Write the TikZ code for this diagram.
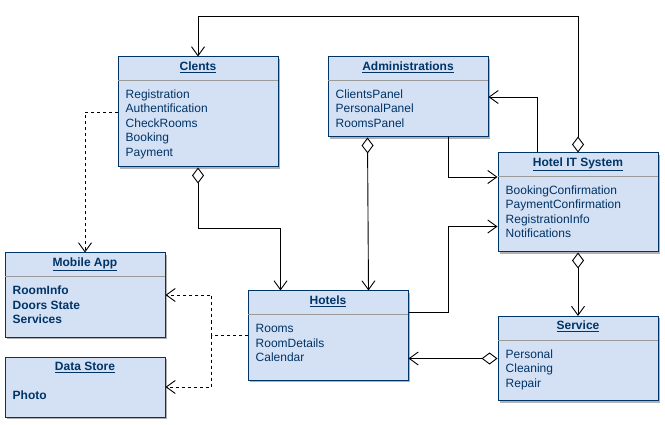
\documentclass[tikz,border=0pt]{standalone}
\usepackage{fontspec}
\setmainfont{Liberation Sans}
\usetikzlibrary{arrows.meta,calc,shadows}
\definecolor{boxfill}{HTML}{D4E1F5}
\definecolor{navy}{HTML}{003366}
\definecolor{sepgray}{HTML}{9A9A9A}
\begin{document}
\begin{tikzpicture}[x=1pt,y=-1pt,
  umlbox/.style={draw=navy, line width=1pt, fill=boxfill, rectangle, anchor=north west,
    minimum width=160pt, inner sep=0pt,
    drop shadow={shadow xshift=2pt,shadow yshift=-2pt,opacity=0.3,fill=black}},
  titletext/.style={anchor=base, font=\fontsize{12}{14.5}\selectfont\bfseries, text=navy, inner sep=0pt},
  itemtext/.style={anchor=base west, font=\fontsize{12}{14.5}\selectfont, text=navy, inner sep=0pt},
  bolditem/.style={itemtext, font=\fontsize{12}{14.5}\selectfont\bfseries},
  sepline/.style={draw=sepgray, line width=1pt},
  assoc/.style={draw=black, line width=0.9pt, -{Straight Barb[length=9pt,width=13pt]}},
  agg/.style={draw=black, line width=0.9pt, {Diamond[length=16pt,width=12pt,fill=white]}-{Straight Barb[length=9pt,width=13pt]}},
  dep/.style={draw=black, line width=0.9pt, dash pattern=on 3pt off 3pt, -{Straight Barb[length=9pt,width=13pt]}}
]
\fill[white] (0,0) rectangle (665,425);
\useasboundingbox (0,0) rectangle (665,425);

% boxes
\node[umlbox, minimum height=110pt] (clents) at (117.5,56.5) {};
\node[umlbox, minimum height=80pt] (admin) at (327.5,56.5) {};
\node[umlbox, minimum height=99pt] (hit) at (497.5,152.5) {};
\node[umlbox, minimum height=84pt] (mobile) at (4.5,252.5) {};
\node[umlbox, minimum height=60pt] (store) at (4.5,356.5) {};
\node[umlbox, minimum height=89pt] (hotels) at (247.5,290.5) {};
\node[umlbox, minimum height=84pt] (service) at (497.5,316) {};

% separators
\foreach \b in {clents,admin,hit,mobile,hotels,service}
  \draw[sepline] ($(\b.north west)+(0.5,24)$) -- ($(\b.north east)+(-0.5,24)$);

% titles
\node[titletext] (clents-t) at ($(clents.north)+(0,14)$) {\underline{Clents}};
\node[titletext] (admin-t) at ($(admin.north)+(0,14)$) {\underline{Administrations}};
\node[titletext] (hit-t) at ($(hit.north)+(0,14)$) {\underline{Hotel IT System}};
\node[titletext] (mobile-t) at ($(mobile.north)+(0,14)$) {\underline{Mobile App}};
\node[titletext] (store-t) at ($(store.north)+(0,14)$) {\underline{Data Store}};
\node[titletext] (hotels-t) at ($(hotels.north)+(0,14)$) {\underline{Hotels}};
\node[titletext] (service-t) at ($(service.north)+(0,14)$) {\underline{Service}};

% items
\foreach \t [count=\i] in {Registration,Authentification,CheckRooms,Booking,Payment}
  \node[itemtext] (clents-\i) at ($(clents.north west)+(8,{42+14.5*(\i-1)})$) {\t};
\foreach \t [count=\i] in {ClientsPanel,PersonalPanel,RoomsPanel}
  \node[itemtext] (admin-\i) at ($(admin.north west)+(8,{42+14.5*(\i-1)})$) {\t};
\foreach \t [count=\i] in {BookingConfirmation,PaymentConfirmation,RegistrationInfo,Notifications}
  \node[itemtext] (hit-\i) at ($(hit.north west)+(8,{42+14.5*(\i-1)})$) {\t};
\foreach \t [count=\i] in {RoomInfo,Doors State,Services}
  \node[bolditem] (mobile-\i) at ($(mobile.north west)+(8,{42+14.5*(\i-1)})$) {\t};
\node[bolditem] (store-1) at ($(store.north west)+(8,43)$) {Photo};
\foreach \t [count=\i] in {Rooms,RoomDetails,Calendar}
  \node[itemtext] (hotels-\i) at ($(hotels.north west)+(8,{42+14.5*(\i-1)})$) {\t};
\foreach \t [count=\i] in {Personal,Cleaning,Repair}
  \node[itemtext] (service-\i) at ($(service.north west)+(8,{42+14.5*(\i-1)})$) {\t};

% connectors
\draw[agg] (hit.north) -- ++(0,-136) -| (clents.north);
\draw[assoc] ($(hit.north west)+(40,0)$) |- (admin.east);
\draw[assoc] ($(admin.south east)+(-40,0)$) |- ($(hit.north west)+(0,24.5)$);
\draw[assoc] ($(hotels.north east)+(0,22)$) -- ++(40,0) |- ($(hit.north west)+(0,74)$);
\draw[agg] ($(admin.south west)+(40,0)$) -- ($(hotels.north east)+(-40,0)$);
\draw[agg] (clents.south) -- ++(0,61) -| ($(hotels.north west)+(33,0)$);
\draw[dep] (clents.west) -| (mobile.north);
\draw[dep] (hotels.west) -- ++(-36,0) |- (mobile.east);
\draw[dep] (hotels.west) -- ++(-36,0) |- (store.east);
\draw[agg] (service.west) -- (service.west -| hotels.east);
\draw[agg] (hit.south) -- (service.north);
\end{tikzpicture}
\end{document}
